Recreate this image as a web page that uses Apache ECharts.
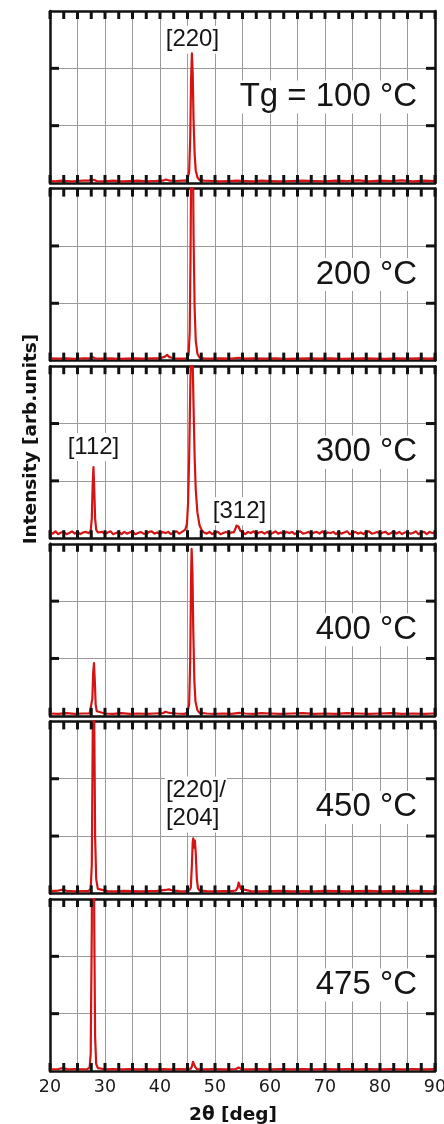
<!DOCTYPE html>
<html>
<head>
<meta charset="utf-8">
<script src="https://cdn.jsdelivr.net/npm/echarts@6/dist/echarts.min.js"></script>
<style>
  html, body { margin: 0; padding: 0; background: #fff; }
  #chart { width: 444px; height: 1124px; }
</style>
</head>
<body>
<div id="chart"></div>
<script>
// XRD scans, [2θ (deg), intensity (arb. units)], one array per growth temperature
const p100 = [
  [20,0.035],[21,0.03],[22,0.04],[23,0.035],[24,0.03],[25,0.035],[26,0.04],[27,0.04],[27.5,0.06],[27.8,0.08],[28.1,0.05],[28.5,0.035],
  [30,0.03],[31.5,0.04],[33,0.03],[34.5,0.035],[36,0.04],[37.5,0.03],[39,0.035],[40.5,0.04],[41.1,0.06],[41.4,0.065],[41.8,0.04],[43,0.035],[44,0.04],
  [44.6,0.04],[45.0,0.06],[45.3,0.2],[45.5,0.8],[45.65,1.8],[45.8,2.26],[45.95,1.9],[46.1,1.1],[46.3,0.5],[46.5,0.22],[46.8,0.1],[47.2,0.05],
  [48,0.04],[49.5,0.035],[51,0.03],[52.5,0.035],[54,0.04],[55.5,0.035],[57,0.03],[58.5,0.04],[60,0.035],[62,0.03],[64,0.035],[66,0.04],
  [68,0.035],[70,0.03],[72,0.04],[74,0.035],[76,0.045],[78,0.03],[80,0.04],[82,0.035],[84,0.045],[86,0.03],[88,0.04],[90,0.035]
];
const p200 = [
  [20,0.04],[21.5,0.035],[23,0.04],[24.5,0.03],[26,0.04],[27.4,0.04],[27.8,0.06],[28.2,0.04],[29.5,0.035],[31,0.04],[32.5,0.03],[34,0.035],
  [35.5,0.04],[37,0.035],[38.5,0.04],[40,0.04],[40.9,0.07],[41.3,0.1],[41.7,0.06],[42.5,0.04],[44,0.035],
  [44.8,0.04],[45.2,0.1],[45.4,0.5],[45.55,1.8],[45.7,3.9],[45.8,4.8],[45.95,4.0],[46.1,2.2],[46.3,0.9],[46.5,0.35],[46.8,0.12],[47.2,0.05],
  [48,0.04],[49.5,0.035],[51,0.04],[53,0.035],[54.3,0.05],[55.5,0.035],[57,0.04],[59,0.035],[61,0.04],[63,0.03],[65,0.035],[67,0.04],
  [69,0.035],[71,0.04],[73,0.03],[75,0.035],[77,0.04],[79,0.035],[81,0.03],[83,0.04],[85,0.035],[87,0.04],[89,0.035],[90,0.04]
];
const p300 = [
  [20,0.11],[20.5,0.08],[21,0.12],[21.5,0.07],[22,0.10],[22.5,0.11],[23,0.07],[23.5,0.09],[24,0.12],[24.5,0.08],[25,0.11],[25.5,0.07],[26,0.10],[26.5,0.11],[27,0.09],
  [27.4,0.12],[27.6,0.35],[27.75,0.9],[27.9,1.24],[28.05,0.85],[28.2,0.35],[28.4,0.15],[28.7,0.1],
  [29,0.08],[29.5,0.11],[30,0.07],[30.5,0.10],[31,0.12],[31.5,0.07],[32,0.09],[32.5,0.11],[33,0.07],[33.5,0.11],[34,0.08],[34.5,0.10],[35,0.12],[35.5,0.07],
  [36,0.09],[36.5,0.11],[37,0.08],[37.5,0.07],[38,0.11],[38.5,0.12],[39,0.08],[39.5,0.10],[40,0.07],[40.5,0.11],[41,0.09],[41.5,0.11],[42,0.07],[42.5,0.10],
  [43,0.12],[43.5,0.08],[44,0.11],
  [44.3,0.12],[44.6,0.15],[44.9,0.25],[45.1,0.6],[45.3,1.4],[45.5,2.6],[45.7,3.6],[45.9,3.3],[46.1,2.3],[46.3,1.4],[46.5,0.85],[46.8,0.45],[47.2,0.22],[47.6,0.14],[48,0.1],
  [48.5,0.08],[49,0.11],[49.5,0.07],[50,0.10],[50.5,0.11],[51,0.07],[51.5,0.09],[52,0.11],[52.5,0.08],[53,0.10],
  [53.4,0.1],[53.7,0.16],[53.9,0.22],[54.1,0.24],[54.3,0.2],[54.6,0.13],[54.9,0.1],
  [55.5,0.07],[56,0.11],[56.5,0.09],[57,0.12],[57.5,0.07],[58,0.10],[58.5,0.11],[59,0.08],[59.5,0.11],[60,0.07],[60.5,0.09],[61,0.12],[61.5,0.08],[62,0.10],
  [62.5,0.07],[63,0.11],[63.5,0.09],[64,0.11],[64.5,0.07],[65,0.10],[65.5,0.12],[66,0.08],[66.5,0.09],[67,0.11],[67.5,0.07],[68,0.10],[68.5,0.11],[69,0.08],
  [69.5,0.12],[70,0.07],[70.5,0.10],[71,0.09],[71.5,0.11],[72,0.07],[72.5,0.11],[73,0.08],[73.5,0.10],[74,0.12],[74.5,0.07],[75,0.09],[75.5,0.11],[76,0.08],
  [76.5,0.10],[77,0.07],[77.5,0.11],[78,0.12],[78.5,0.08],[79,0.09],[79.5,0.11],[80,0.07],[80.5,0.10],[81,0.11],[81.5,0.07],[82,0.09],[82.5,0.12],[83,0.08],
  [83.5,0.11],[84,0.07],[84.5,0.10],[85,0.11],[85.5,0.08],[86,0.09],[86.5,0.12],[87,0.07],[87.5,0.10],[88,0.11],[88.5,0.07],[89,0.11],[89.5,0.09],[90,0.10]
];
const p400 = [
  [20,0.04],[21.5,0.035],[23,0.045],[24.5,0.035],[26,0.04],[27.2,0.04],[27.5,0.07],[27.7,0.3],[27.85,0.75],[28.0,0.92],[28.15,0.6],[28.3,0.2],[28.5,0.08],[28.8,0.05],
  [30,0.04],[31.5,0.035],[33,0.045],[34.5,0.035],[36,0.04],[37.5,0.035],[39,0.04],[40.5,0.045],[41,0.07],[41.3,0.09],[41.7,0.05],[43,0.04],[44.5,0.035],
  [45.0,0.06],[45.3,0.2],[45.5,1.0],[45.65,2.4],[45.75,2.91],[45.9,2.5],[46.05,1.5],[46.25,0.6],[46.45,0.25],[46.8,0.1],[47.2,0.05],
  [48.5,0.04],[50,0.035],[51.5,0.04],[53,0.035],[54.4,0.05],[55.5,0.04],[57,0.035],[58.5,0.045],[60,0.04],[62,0.035],[64,0.04],[66,0.045],
  [68,0.035],[70,0.04],[72,0.035],[74,0.045],[76,0.04],[78,0.035],[80,0.04],[82,0.045],[84,0.035],[86,0.04],[88,0.035],[90,0.04]
];
const p450 = [
  [20,0.04],[21.5,0.05],[22.3,0.065],[23,0.045],[24.5,0.035],[26,0.04],[27.0,0.04],
  [27.4,0.08],[27.6,0.5],[27.75,2.5],[27.9,4.6],[28.05,3.0],[28.2,1.0],[28.4,0.25],[28.7,0.08],[29.0,0.05],
  [30.5,0.04],[32,0.035],[33.5,0.045],[35,0.04],[36.5,0.035],[38,0.04],[39.5,0.045],[41,0.06],[41.6,0.07],[42.3,0.05],[43.5,0.04],[44.5,0.035],
  [45.3,0.05],[45.6,0.1],[45.8,0.5],[45.95,0.9],[46.05,0.96],[46.2,0.8],[46.35,0.92],[46.5,0.7],[46.7,0.25],[46.9,0.09],[47.2,0.05],
  [48.5,0.04],[50,0.035],[51.5,0.04],[53,0.04],[53.8,0.05],[54.1,0.1],[54.3,0.19],[54.5,0.17],[54.7,0.08],[55.0,0.05],
  [56.5,0.04],[58,0.035],[60,0.04],[62,0.045],[64,0.035],[66,0.04],[68,0.035],[70,0.045],[72,0.04],[74,0.035],[76,0.04],[78,0.045],
  [80,0.035],[82,0.04],[84,0.035],[86,0.045],[88,0.04],[90,0.035]
];
const p475 = [
  [20,0.03],[21.5,0.035],[22.4,0.05],[23.2,0.03],[24.5,0.035],[26,0.03],[26.8,0.035],
  [27.2,0.06],[27.4,0.3],[27.6,2.5],[27.75,7.0],[27.9,6.0],[28.05,2.5],[28.2,0.6],[28.4,0.12],[28.7,0.05],
  [30,0.03],[31.5,0.035],[33,0.03],[34.5,0.035],[36,0.03],[37.5,0.035],[39,0.03],[40.5,0.035],[42,0.03],[43.5,0.035],[45,0.03],
  [45.6,0.04],[45.8,0.08],[46.0,0.16],[46.2,0.14],[46.4,0.07],[46.7,0.035],
  [48,0.03],[50,0.035],[52,0.03],[53.8,0.035],[54.3,0.06],[54.8,0.035],[56,0.03],[58,0.035],[60,0.03],[62,0.035],[64,0.03],[66,0.035],
  [68,0.03],[70,0.035],[72,0.03],[74,0.035],[76,0.03],[78,0.035],[80,0.03],[82,0.035],[84,0.03],[86,0.035],[88,0.03],[90,0.035]
];

const scans = [p100, p200, p300, p400, p450, p475];
const tempLabels = ['Tg = 100 \u00B0C', '200 \u00B0C', '300 \u00B0C', '400 \u00B0C', '450 \u00B0C', '475 \u00B0C'];
const angleTickLabels = [20, 30, 40, 50, 60, 70, 80, 90];
const angleTicks = [20, 22.5, 25, 27.5, 30, 32.5, 35, 37.5, 40, 42.5, 45, 47.5, 50, 52.5, 55, 57.5,
                    60, 62.5, 65, 67.5, 70, 72.5, 75, 77.5, 80, 82.5, 85, 87.5, 90];
const intensityTicks = [0, 1, 2, 3];

// Reflection labels: panel index, text, anchor in data units (2θ, intensity)
const reflections = [
  { panel: 0, text: '[220]', at: [45.9, 2.5], align: 'center' },
  { panel: 2, text: '[112]', at: [27.9, 1.59], align: 'center' },
  { panel: 2, text: '[312]', at: [54.45, 0.47], align: 'center' },
  { panel: 4, text: '[220]/\n[204]', at: [40.9, 1.55], align: 'left' }
];

// ---- layout ----
const LEFT = 50, WIDTH = 385, TOP0 = 11, STEP = 177.6, HEIGHT = 172;
const RED = '#d41414';
const GRIDLINE = '#9a9a9a';
const FRAME = '#111';
const X_MIN = angleTickLabels[0], X_MAX = angleTickLabels[angleTickLabels.length - 1];
const Y_MIN = intensityTicks[0], Y_MAX = intensityTicks[intensityTicks.length - 1];
const X_TICK_LEN = 8, Y_TICK_LEN = 9, TICK_WIDTH = 3;

const chart = echarts.init(document.getElementById('chart'), null, { renderer: 'canvas' });

function frameLine() {
  return { show: true, onZero: false, lineStyle: { color: FRAME, width: 2.5 } };
}

const grids = [], xAxes = [], yAxes = [], series = [];
scans.forEach((scan, i) => {
  const last = i === scans.length - 1;
  grids.push({ left: LEFT, width: WIDTH, top: TOP0 + i * STEP, height: HEIGHT, outerBoundsMode: 'none', containLabel: false });
  xAxes.push({
    type: 'value', gridIndex: i, position: 'bottom',
    min: X_MIN, max: X_MAX, interval: 5,
    axisLine: frameLine(), axisTick: { show: false },
    splitLine: { show: true, lineStyle: { color: GRIDLINE, width: 1 } },
    axisLabel: {
      show: last, margin: 7, color: '#1a1a1a', fontSize: 17.5, fontFamily: 'DejaVu Sans',
      formatter: v => angleTickLabels.includes(v) ? String(v) : '',
      showMinLabel: true, showMaxLabel: true, hideOverlap: false
    }
  });
  xAxes.push({
    type: 'value', gridIndex: i, position: 'top',
    min: X_MIN, max: X_MAX, interval: 5,
    axisLine: frameLine(), axisTick: { show: false },
    splitLine: { show: false }, axisLabel: { show: false }
  });
  yAxes.push({
    type: 'value', gridIndex: i, position: 'left',
    min: Y_MIN, max: Y_MAX, interval: 1,
    axisLine: frameLine(), axisTick: { show: false },
    splitLine: { show: true, lineStyle: { color: GRIDLINE, width: 1 } },
    axisLabel: { show: false }
  });
  yAxes.push({
    type: 'value', gridIndex: i, position: 'right',
    min: Y_MIN, max: Y_MAX, interval: 1,
    axisLine: frameLine(), axisTick: { show: false },
    splitLine: { show: false }, axisLabel: { show: false }
  });
  series.push({
    type: 'line', xAxisIndex: 2 * i, yAxisIndex: 2 * i,
    data: scan, showSymbol: false, symbol: 'none', clip: true, z: 3,
    lineStyle: { color: RED, width: 2.2, join: 'round' }
  });
  // inward frame ticks on top and bottom at each 2θ tick value
  series.push({
    type: 'custom', xAxisIndex: 2 * i, yAxisIndex: 2 * i, silent: true, z: 4, clip: false,
    data: angleTicks.map(v => [v]),
    encode: { x: 0 },
    renderItem: function (params, api) {
      const cs = params.coordSys;
      const px = api.coord([api.value(0), 1])[0];
      const st = { stroke: FRAME, lineWidth: TICK_WIDTH };
      return {
        type: 'group', children: [
          { type: 'line', shape: { x1: px, y1: cs.y, x2: px, y2: cs.y + X_TICK_LEN }, style: st },
          { type: 'line', shape: { x1: px, y1: cs.y + cs.height, x2: px, y2: cs.y + cs.height - X_TICK_LEN }, style: st }
        ]
      };
    }
  });
  // inward frame ticks on left and right at each inner intensity tick
  series.push({
    type: 'custom', xAxisIndex: 2 * i, yAxisIndex: 2 * i, silent: true, z: 4, clip: false,
    data: intensityTicks.slice(1, -1).map(v => [X_MIN, v]),
    encode: { x: 0, y: 1 },
    renderItem: function (params, api) {
      const cs = params.coordSys;
      const py = api.coord([X_MIN, api.value(1)])[1];
      const st = { stroke: FRAME, lineWidth: TICK_WIDTH };
      return {
        type: 'group', children: [
          { type: 'line', shape: { x1: cs.x, y1: py, x2: cs.x + Y_TICK_LEN, y2: py }, style: st },
          { type: 'line', shape: { x1: cs.x + cs.width, y1: py, x2: cs.x + cs.width - Y_TICK_LEN, y2: py }, style: st }
        ]
      };
    }
  });
});

chart.setOption({
  animation: false,
  backgroundColor: '#fff',
  grid: grids, xAxis: xAxes, yAxis: yAxes, series: series
});

// ---- text annotations ----
const graphics = [];
scans.forEach((scan, i) => {
  const top = TOP0 + i * STEP;
  graphics.push({
    type: 'text', z: 1,
    x: LEFT + WIDTH - 16, y: top + HEIGHT / 2,
    style: {
      text: tempLabels[i], fontSize: 33, fontFamily: '"Liberation Sans", Arial, sans-serif',
      fill: '#151515', align: 'right', verticalAlign: 'middle',
      backgroundColor: '#fff', padding: [0, 2]
    }
  });
});
reflections.forEach(r => {
  const p = chart.convertToPixel({ gridIndex: r.panel }, r.at);
  graphics.push({
    type: 'text', z: 1,
    x: p[0], y: p[1],
    style: {
      text: r.text, fontSize: 24, lineHeight: 28, fontFamily: '"Liberation Sans", Arial, sans-serif',
      fill: '#151515', align: r.align, verticalAlign: 'middle',
      backgroundColor: '#fff', padding: [0, 1]
    }
  });
});
graphics.push({
  type: 'text', z: 5, x: 31, y: 439, rotation: Math.PI / 2,
  style: {
    text: 'Intensity [arb.units]', fontSize: 18.5, fontWeight: 'bold', fontFamily: 'DejaVu Sans',
    fill: '#111', align: 'center', verticalAlign: 'middle'
  }
});
graphics.push({
  type: 'text', z: 5, x: 233, y: 1115,
  style: {
    text: '2\u03B8 [deg]', fontSize: 18.5, fontWeight: 'bold', fontFamily: 'DejaVu Sans',
    fill: '#111', align: 'center', verticalAlign: 'middle'
  }
});
chart.setOption({ graphic: graphics });
</script>
</body>
</html>
